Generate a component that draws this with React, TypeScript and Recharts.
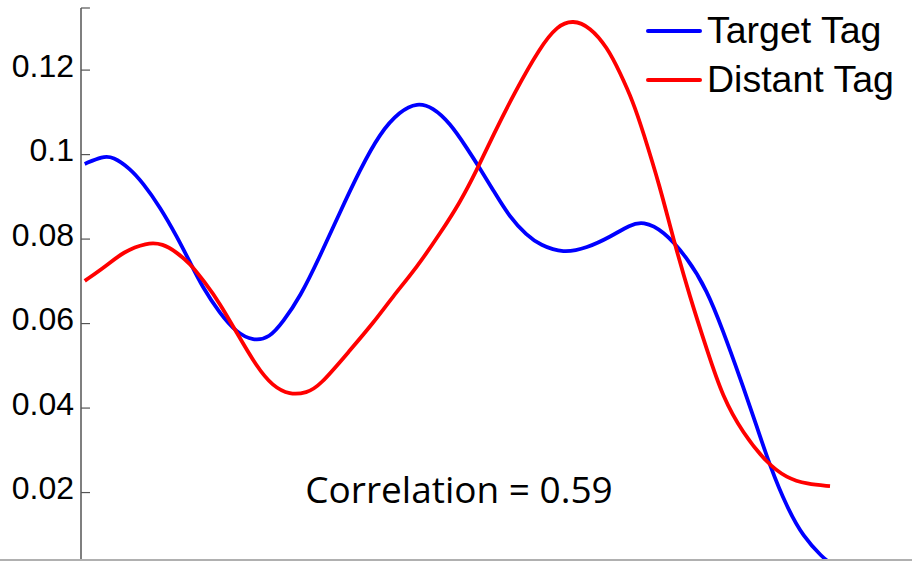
import React from 'react';
import { LineChart, Line, XAxis, YAxis, Legend, ReferenceLine } from 'recharts';

// lag position (0..100) and normalized response for each tag
const targetLag = [0, 2.4, 3.8, 6.0, 7.8, 10.1, 12.4, 14.1, 15.8, 18.1, 20.4, 22.6, 24.8, 26.6, 28.9, 31.5, 34.2, 36.9, 39.6, 42.3, 44.6, 46.7, 49.0, 51.3, 53.0, 54.8, 57.0, 59.3, 61.1, 64.2, 67.4, 70.5, 73.2, 74.9, 77.6, 80.8, 83.5, 85.6, 87.9, 90.2, 92.0, 94.2, 96.4, 99.1, 99.7];
const targetValue = [0.0978, 0.0996, 0.0995, 0.0968, 0.0933, 0.0876, 0.0805, 0.0746, 0.0686, 0.0625, 0.0578, 0.0559, 0.0566, 0.0604, 0.0663, 0.0757, 0.0862, 0.0963, 0.1051, 0.1103, 0.1123, 0.1112, 0.1075, 0.1015, 0.0968, 0.0916, 0.0852, 0.0809, 0.0786, 0.0766, 0.0779, 0.0805, 0.0834, 0.0842, 0.0821, 0.0757, 0.0679, 0.0585, 0.0473, 0.0355, 0.026, 0.0166, 0.0095, 0.0045, 0.0038];

const distantLag = [0, 3.0, 5.1, 8.3, 10.5, 12.3, 14.1, 16.1, 18.1, 20.4, 23.1, 25.2, 27.5, 29.8, 31.5, 35.6, 38.7, 41.3, 44.6, 47.7, 50.3, 52.6, 54.8, 57.7, 61.1, 63.4, 65.5, 67.8, 70.1, 71.8, 73.6, 74.9, 77.2, 78.9, 81.2, 83.5, 85.6, 88.3, 91.5, 94.2, 96.9, 100];
const distantValue = [0.0701, 0.0738, 0.0769, 0.0792, 0.0789, 0.0769, 0.0743, 0.0698, 0.0649, 0.0578, 0.0497, 0.0452, 0.0431, 0.0436, 0.0452, 0.0537, 0.0601, 0.0663, 0.0734, 0.0814, 0.0885, 0.0963, 0.1046, 0.1148, 0.1254, 0.1305, 0.1319, 0.1302, 0.1254, 0.1195, 0.1124, 0.1055, 0.0923, 0.0805, 0.0663, 0.0537, 0.0426, 0.0341, 0.027, 0.0234, 0.022, 0.0215];

const seriesNames = ['Target Tag', 'Distant Tag'];
const yTicks = [0.02, 0.04, 0.06, 0.08, 0.1, 0.12];
const yMin = 0.0038;
const yMax = 0.1347;
const correlation = 0.59;

const targetData = targetLag.map((x, i) => ({ x, y: targetValue[i] }));
const distantData = distantLag.map((x, i) => ({ x, y: distantValue[i] }));

const AXIS_COLOR = '#555';
const AXIS_X = 81;

// labels sit left of the axis, tick marks point into the plot
const YTick = (props: any) => {
  const { y, payload } = props;
  return (
    <g>
      <line x1={AXIS_X} x2={AXIS_X + 9} y1={y} y2={y} stroke={AXIS_COLOR} strokeWidth={1.2} />
      <text
        x={AXIS_X - 7}
        y={y}
        dy={6.5}
        textAnchor="end"
        fontFamily="'Liberation Sans', Arial, sans-serif"
        fontSize={32}
        fill="#000"
      >
        {String(payload.value)}
      </text>
    </g>
  );
};

const renderLegend = (props: any) => {
  const items = [...props.payload].sort(
    (a: any, b: any) => seriesNames.indexOf(a.value) - seriesNames.indexOf(b.value)
  );
  return (
    <div style={{ fontFamily: "'Liberation Sans', Arial, sans-serif", fontSize: 37.5, color: '#000' }}>
      {items.map((entry: any) => (
        <div key={entry.value} style={{ display: 'flex', alignItems: 'center', height: 49 }}>
          <span style={{ width: 56, height: 4, background: entry.color, marginRight: 5, borderRadius: 2 }} />
          <span>{entry.value}</span>
        </div>
      ))}
    </div>
  );
};

export default function App() {
  return (
    <div style={{ position: 'absolute', top: 0, left: 0, width: 912, height: 561, background: '#fff' }}>
      <LineChart
        width={912}
        height={561}
        margin={{ top: 8, right: 0, bottom: 0, left: 0 }}
      >
        <XAxis dataKey="x" type="number" domain={[-0.5, 111]} hide allowDuplicatedCategory={false} />
        <YAxis
          type="number"
          domain={[yMin, yMax]}
          ticks={yTicks}
          width={AXIS_X}
          tickLine={false}
          axisLine={{ stroke: AXIS_COLOR, strokeWidth: 1.5 }}
          tick={<YTick />}
          allowDataOverflow
        />
        <ReferenceLine
          segment={[{ x: -0.5, y: yMax }, { x: 0.7, y: yMax }]}
          stroke={AXIS_COLOR}
          strokeWidth={1.2}
          ifOverflow="visible"
        />
        <Legend
          layout="horizontal"
          verticalAlign="middle"
          align="center"
          content={renderLegend}
          wrapperStyle={{ top: 6, left: 646, width: 266 }}
        />
        <Line
          data={targetData}
          dataKey="y"
          name={seriesNames[0]}
          type="basis"
          stroke="#0000ff"
          strokeWidth={3.8}
          dot={false}
          isAnimationActive={false}
        />
        <Line
          data={distantData}
          dataKey="y"
          name={seriesNames[1]}
          type="basis"
          stroke="#ff0000"
          strokeWidth={3.8}
          dot={false}
          isAnimationActive={false}
        />
      </LineChart>
      <div
        style={{
          position: 'absolute',
          left: 0,
          width: 918,
          top: 463,
          textAlign: 'center',
          fontFamily: "'Open Sans', sans-serif",
          fontSize: 37,
          lineHeight: 'normal',
          color: '#000',
        }}
      >
        {`Correlation = ${correlation}`}
      </div>
      <div style={{ position: 'absolute', left: 0, top: 559, width: 912, height: 1.5, background: '#b0b0b0' }} />
    </div>
  );
}
